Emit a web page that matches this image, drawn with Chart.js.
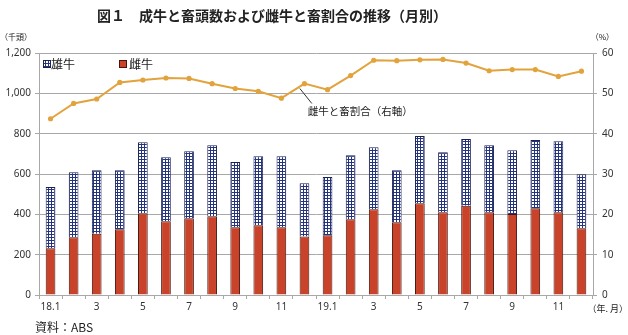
<!DOCTYPE html>
<html>
<head>
<meta charset="utf-8">
<script src="https://cdn.jsdelivr.net/npm/chart.js@4.4.1/dist/chart.umd.min.js"></script>
<style>
  html, body { margin: 0; padding: 0; background: #fff; }
  #wrap { width: 628px; height: 335px; position: relative; }
</style>
</head>
<body>
<div id="wrap"><canvas id="chart" width="628" height="335"></canvas></div>
<script>
// months 18.1 - 19.12
const months = ['18.1','2','3','4','5','6','7','8','9','10','11','12',
                '19.1','2','3','4','5','6','7','8','9','10','11','12'];
// 雌牛 (thousand head)
const femaleValues = [232,286,304,326,405,366,381,391,336,346,336,290,
                      296,376,425,361,455,410,442,410,402,430,410,331];
// 雄牛 (thousand head)
const maleValues = [304,323,315,293,353,317,332,352,323,342,352,264,
                    289,317,308,258,333,298,331,333,316,338,353,268];
// 雌牛と畜割合 (%)
const femaleShare = [43.7,47.5,48.6,52.7,53.3,53.8,53.7,52.4,51.2,50.5,48.8,52.4,
                     50.9,54.4,58.2,58.1,58.3,58.4,57.5,55.6,55.9,55.9,54.2,55.5];
const leftTicks = [0, 200, 400, 600, 800, 1000, 1200];
const rightTicks = [0, 10, 20, 30, 40, 50, 60];

const FONT = "'Noto Sans', 'Noto Sans CJK JP', sans-serif";
const JP = "'Noto Sans CJK JP', sans-serif";
const RED = '#c9432b';
const NAVY = '#24347f';
const LINE = '#e2a33d';
const GRID = '#a8a8a8';

// grid pattern for 雄牛
function makePattern() {
  const c = document.createElement('canvas');
  c.width = 3; c.height = 3;
  const g = c.getContext('2d');
  g.fillStyle = '#ffffff';
  g.fillRect(0, 0, 3, 3);
  g.fillStyle = NAVY;
  g.fillRect(0, 0, 3, 1);
  g.fillRect(0, 0, 1, 3);
  return document.getElementById('chart').getContext('2d').createPattern(c, 'repeat');
}
const pattern = makePattern();

const extras = {
  id: 'extras',
  afterDraw(chart) {
    const ctx = chart.ctx;
    const area = chart.chartArea;
    const x = chart.scales.x;
    const y2 = chart.scales.y2;
    ctx.save();
    ctx.fillStyle = '#222';
    ctx.textBaseline = 'middle';

    // title
    ctx.font = 'bold 14px ' + JP;
    ctx.textAlign = 'left';
    ctx.fillText('図１　成牛と畜頭数および雌牛と畜割合の推移（月別）', 97, 16);

    // units
    ctx.font = '8px ' + JP;
    ctx.fillText('（千頭）', 0, 37);
    ctx.textAlign = 'right';
    ctx.fillText('（%）', 614, 37);
    ctx.font = '9px ' + JP;
    ctx.fillText('（年. 月）', 628, 309);

    // source
    ctx.textAlign = 'left';
    ctx.font = '12px ' + JP;
    ctx.fillText('資料：ABS', 35, 327);

    // legend
    const ly = area.top + 11;
    ctx.lineWidth = 1;
    ctx.fillStyle = pattern;
    ctx.fillRect(43.5, ly - 3.5, 7, 7);
    ctx.strokeStyle = '#1c2250';
    ctx.strokeRect(43.5, ly - 3.5, 7, 7);
    ctx.fillStyle = RED;
    ctx.fillRect(119.5, ly - 3.5, 7, 7);
    ctx.strokeStyle = '#4a140a';
    ctx.strokeRect(119.5, ly - 3.5, 7, 7);
    ctx.fillStyle = '#222';
    ctx.font = '12px ' + JP;
    ctx.fillText('雄牛', 51, ly);
    ctx.fillText('雌牛', 129, ly);

    // annotation for the line
    const px = x.getPixelForValue(10.8);
    const py = y2.getPixelForValue(51.2);
    ctx.strokeStyle = '#333';
    ctx.beginPath();
    ctx.moveTo(px, py);
    ctx.lineTo(px + 12, py + 15);
    ctx.stroke();
    ctx.font = '10.5px ' + JP;
    ctx.fillText('雌牛と畜割合（右軸）', px + 8, py + 23);
    ctx.restore();
  }
};

new Chart(document.getElementById('chart'), {
  data: {
    labels: months,
    datasets: [
      {
        type: 'line',
        label: '雌牛と畜割合（右軸）',
        data: femaleShare,
        yAxisID: 'y2',
        borderColor: LINE,
        backgroundColor: LINE,
        borderWidth: 2,
        pointRadius: 2.6,
        pointBackgroundColor: LINE,
        pointBorderWidth: 0,
        tension: 0,
        order: 0
      },
      {
        type: 'bar',
        label: '雌牛',
        data: femaleValues,
        yAxisID: 'y',
        backgroundColor: RED,
        borderColor: '#4a140a',
        borderWidth: 1,
        barPercentage: 0.42,
        categoryPercentage: 1,
        stack: 's',
        order: 1
      },
      {
        type: 'bar',
        label: '雄牛',
        data: maleValues,
        yAxisID: 'y',
        backgroundColor: pattern,
        borderColor: '#1c2250',
        borderWidth: 1,
        barPercentage: 0.42,
        categoryPercentage: 1,
        stack: 's',
        order: 1
      }
    ]
  },
  options: {
    responsive: false,
    animation: false,
    devicePixelRatio: 1,
    layout: { padding: { top: 53, left: 0, right: 0, bottom: 0 } },
    plugins: {
      legend: { display: false },
      tooltip: { enabled: false },
      title: { display: false }
    },
    scales: {
      x: {
        stacked: true,
        offset: true,
        grid: { offset: true, drawOnChartArea: false, drawTicks: true, tickLength: 4, color: GRID },
        border: { color: GRID },
        ticks: {
          autoSkip: false,
          maxRotation: 0,
          padding: 2,
          color: '#333',
          font: { family: FONT, size: 10 },
          callback: (v, i) => (i % 2 === 0 ? months[i] : '')
        },
        afterFit: s => { s.height = 40; }
      },
      y: {
        stacked: true,
        position: 'left',
        min: 0,
        max: 1200,
        afterBuildTicks: s => { s.ticks = leftTicks.map(v => ({ value: v })); },
        grid: { color: GRID, tickLength: 4 },
        border: { color: GRID },
        ticks: {
          padding: 4,
          color: '#333',
          font: { family: FONT, size: 10 },
          callback: v => v.toLocaleString('en-US')
        },
        afterFit: s => { s.width = 39; }
      },
      y2: {
        position: 'right',
        min: 0,
        max: 60,
        afterBuildTicks: s => { s.ticks = rightTicks.map(v => ({ value: v })); },
        grid: { drawOnChartArea: false, color: GRID, tickLength: 4 },
        border: { color: GRID },
        ticks: {
          padding: 5,
          color: '#333',
          font: { family: FONT, size: 10 }
        },
        afterFit: s => { s.width = 35; }
      }
    }
  },
  plugins: [extras]
});
</script>
</body>
</html>
